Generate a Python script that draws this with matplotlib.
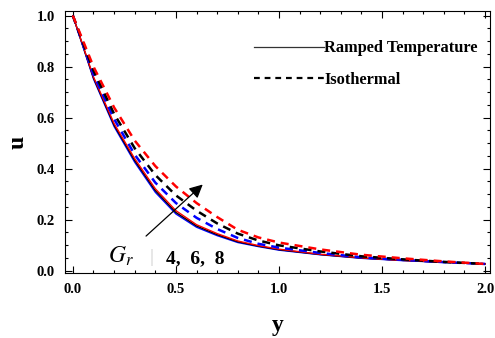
import numpy as np
import matplotlib.pyplot as plt
from matplotlib.lines import Line2D
from matplotlib.ticker import MultipleLocator

plt.rcParams['font.family'] = ['Liberation Serif', 'DejaVu Serif']
plt.rcParams['mathtext.fontset'] = 'stix'

# velocity profiles u(y) for Gr = 4, 6, 8
y = [0.0, 0.1, 0.2, 0.3, 0.4, 0.5, 0.6, 0.7, 0.8, 0.9, 1.0, 1.2, 1.4, 1.6, 1.8, 2.0]

ramped_gr4 = [1.0, 0.752, 0.565, 0.425, 0.307, 0.222, 0.170, 0.137, 0.110, 0.094, 0.080, 0.062, 0.048, 0.039, 0.032, 0.026]
ramped_gr6 = [1.0, 0.756, 0.571, 0.432, 0.314, 0.228, 0.175, 0.141, 0.113, 0.096, 0.082, 0.063, 0.049, 0.040, 0.032, 0.026]
ramped_gr8 = [1.0, 0.760, 0.577, 0.439, 0.321, 0.235, 0.180, 0.145, 0.116, 0.098, 0.084, 0.064, 0.050, 0.040, 0.033, 0.026]

iso_gr4 = [1.0, 0.770, 0.595, 0.455, 0.345, 0.265, 0.207, 0.163, 0.128, 0.105, 0.090, 0.069, 0.052, 0.042, 0.033, 0.026]
iso_gr6 = [1.0, 0.785, 0.615, 0.480, 0.375, 0.295, 0.235, 0.185, 0.145, 0.118, 0.099, 0.075, 0.056, 0.044, 0.034, 0.026]
iso_gr8 = [1.0, 0.800, 0.640, 0.510, 0.410, 0.330, 0.265, 0.210, 0.160, 0.130, 0.110, 0.083, 0.062, 0.048, 0.036, 0.026]

colors = ['#0000ff', '#000000', '#ff0000']

fig = plt.figure(figsize=(4.95, 3.38), dpi=100)
ax = fig.add_axes([0.131, 0.192, 0.859, 0.775])

for u, c in zip([ramped_gr4, ramped_gr6, ramped_gr8], colors):
    ax.plot(y, u, color=c, lw=1.0)
for u, c in zip([iso_gr4, iso_gr6, iso_gr8], colors):
    ax.plot(y, u, color=c, lw=1.8, dashes=(3.2, 2.4))

ax.set_xlim(-0.039, 2.024)
ax.set_ylim(-0.01, 1.018)
ax.xaxis.set_major_locator(MultipleLocator(0.5))
ax.xaxis.set_minor_locator(MultipleLocator(0.1))
ax.yaxis.set_major_locator(MultipleLocator(0.2))
ax.yaxis.set_minor_locator(MultipleLocator(0.05))
ax.tick_params(which='both', direction='in', top=True, right=True, width=0.8)
ax.tick_params(which='major', length=5, labelsize=10.5, pad=7)
ax.tick_params(which='minor', length=2.5)
for lbl in ax.get_xticklabels() + ax.get_yticklabels():
    lbl.set_fontweight('bold')

ax.set_xlabel('y', fontsize=17, fontweight='bold', labelpad=14)
ax.set_ylabel('u', fontsize=17, fontweight='bold', labelpad=6)

handles = [Line2D([], [], color='#333333', lw=0.9),
           Line2D([], [], color='black', lw=1.6, dashes=(2.6, 2.2))]
ax.legend(handles, ['Ramped Temperature', 'Isothermal'], loc='upper left',
          bbox_to_anchor=(0.41, 0.945), frameon=False, handlelength=4.3,
          handletextpad=0.0, labelspacing=0.95,
          prop={'weight': 'bold', 'size': 11.8})

ax.annotate('', xy=(0.64, 0.345), xytext=(0.345, 0.128),
            arrowprops=dict(arrowstyle='-|>', color='black', lw=0.9,
                            mutation_scale=20))
ax.text(0.17, 0.03, '$G_r$', fontsize=17, ha='left', va='baseline')
ax.text(0.37, 0.035, '|', fontsize=14, color='#d0d0d0', ha='left', va='baseline')
ax.text(0.45, 0.03, '4,  6,  8', fontsize=14, fontweight='bold',
        ha='left', va='baseline')

fig.savefig('out.png', dpi=100)
